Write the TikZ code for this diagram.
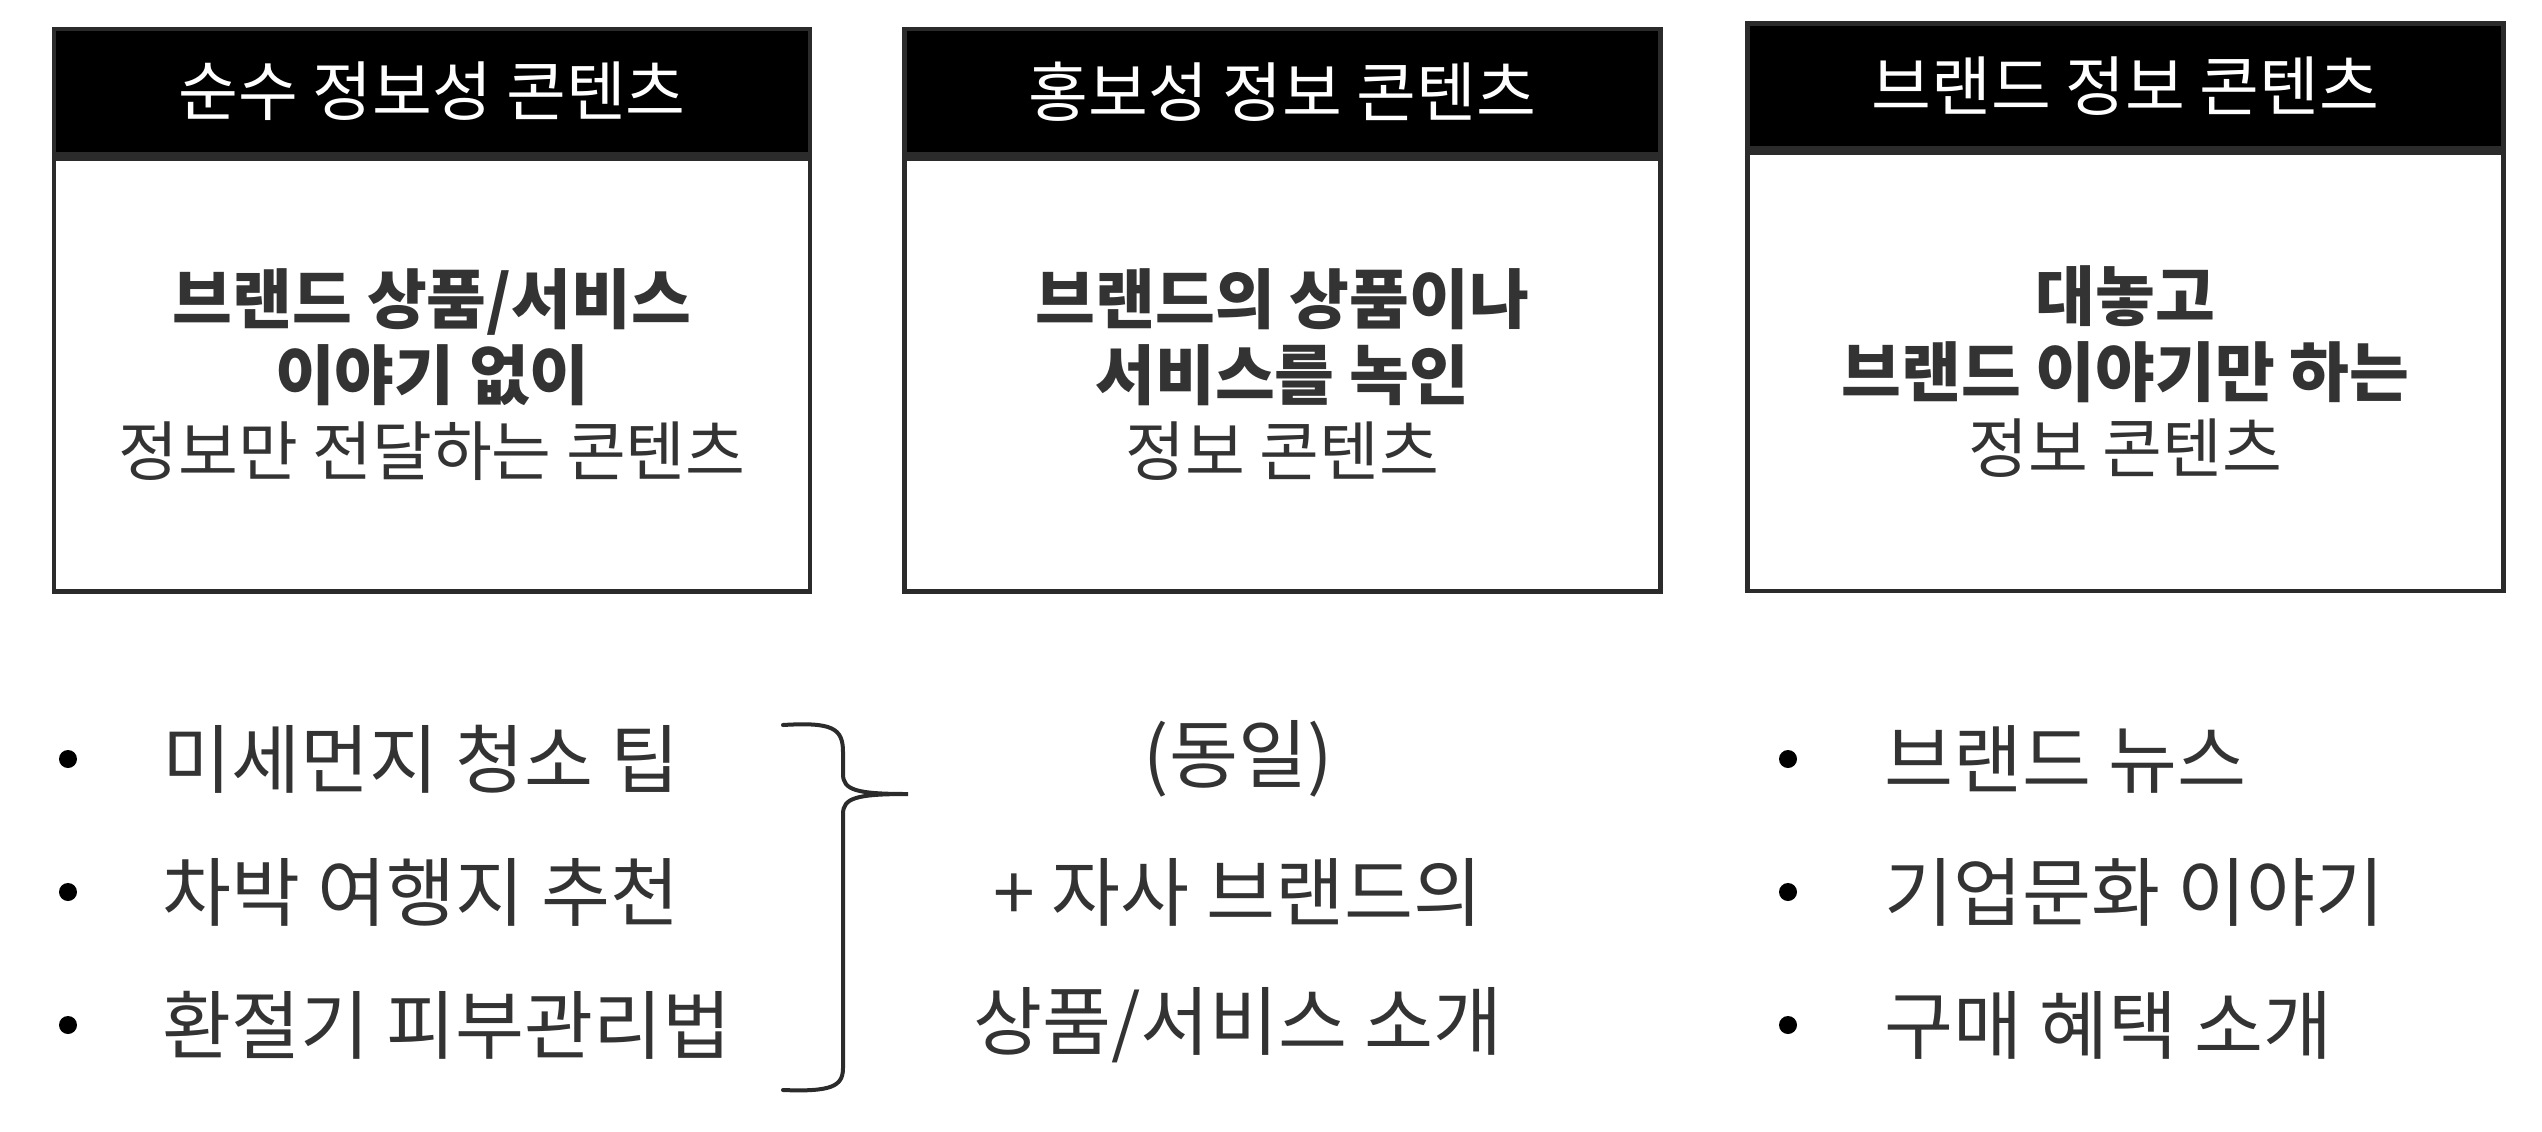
\documentclass[tikz,border=0pt]{standalone}
\usepackage{fontspec}
\newfontfamily\kr{Noto Sans CJK KR}
\usetikzlibrary{positioning}
\definecolor{txtgray}{HTML}{333333}
\definecolor{linegray}{HTML}{2B2B2B}

\begin{document}
\begin{tikzpicture}[
  x=1pt, y=-1pt,
  font=\kr,
  head/.style={draw=linegray, fill=black, text=white, line width=2.2pt,
               minimum width=378pt, minimum height=62.5pt, inner sep=0pt,
               font=\kr\fontsize{32.5}{38}\selectfont},
  body/.style={draw=linegray, fill=white, line width=2.2pt, align=center,
               minimum width=378pt, inner sep=0pt, text=txtgray,
               font=\kr\fontsize{32.5}{38}\selectfont},
  item/.style={anchor=west, inner sep=0pt, text=txtgray,
               font=\kr\fontsize{37.5}{42}\selectfont},
  midtxt/.style={inner sep=0pt, text=txtgray,
               font=\kr\fontsize{37.5}{42}\selectfont},
  dot/.style={circle, fill=black, inner sep=0pt, minimum size=9pt},
  brace/.style={draw=linegray, line width=2pt, line cap=round},
]
\useasboundingbox (0,0) rectangle (1271,565.5);

% ---------- three boxes ----------
\node[head] (h1) at (216,45.8) {순수 정보성 콘텐츠};
\node[body, minimum height=216.5pt, below=0pt of h1] (b1)
  {\textbf{브랜드 상품/서비스}\\\textbf{이야기 없이}\\정보만 전달하는 콘텐츠};

\node[head] (h2) at (641.2,45.8) {홍보성 정보 콘텐츠};
\node[body, minimum height=216.5pt, below=0pt of h2] (b2)
  {\textbf{브랜드의 상품이나}\\\textbf{서비스를 녹인}\\정보 콘텐츠};

\node[head] (h3) at (1062.7,43) {브랜드 정보 콘텐츠};
\node[body, minimum height=219pt, below=0pt of h3] (b3)
  {\textbf{대놓고}\\\textbf{브랜드 이야기만 하는}\\정보 콘텐츠};

% ---------- left list ----------
\node[dot] (d1) at (34,379.5) {};
\node[dot] (d2) at (34,446) {};
\node[dot] (d3) at (34,512.5) {};
\node[item] (t1) at (81,379.5) {미세먼지 청소 팁};
\node[item] (t2) at (81,446) {차박 여행지 추천};
\node[item] (t3) at (81,512.5) {환절기 피부관리법};

% brace
\coordinate (btop) at (391.5,362.5);
\coordinate (btip) at (454,397);
\coordinate (bbot) at (391.5,545);
\draw[brace] (btop) .. controls (416,361) and (421.5,364) .. (421.5,376)
  -- (421.5,387) .. controls (421.5,395) and (428,397) .. (btip)
  .. controls (428,397) and (421.5,399) .. (421.5,407)
  -- (421.5,534) .. controls (421.5,543) and (416,546) .. (bbot);

% ---------- middle column ----------
\node[midtxt] (m1) at (619,379.5) {(동일)};
\node[midtxt] (m2) at (619,446) {+ 자사 브랜드의};
\node[midtxt] (m3) at (619,512.5) {상품/서비스 소개};

% ---------- right list ----------
\node[dot] (e1) at (894,379.5) {};
\node[dot] (e2) at (894,446) {};
\node[dot] (e3) at (894,512.5) {};
\node[item] (r1) at (942,379.5) {브랜드 뉴스};
\node[item] (r2) at (942,446) {기업문화 이야기};
\node[item] (r3) at (942,512.5) {구매 혜택 소개};

\end{tikzpicture}
\end{document}
